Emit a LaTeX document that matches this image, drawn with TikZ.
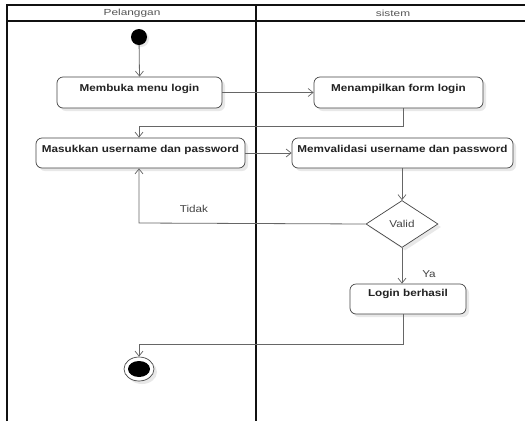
\documentclass[tikz,border=0pt]{standalone}
\usepackage{fontspec}
\newfontfamily\dfont[FakeStretch=1.17]{Liberation Sans}
\newfontfamily\hfont[FakeStretch=1.35]{Liberation Sans}
\usetikzlibrary{arrows.meta,shapes.geometric,shadows}
\definecolor{lanec}{HTML}{111111}
\definecolor{linec}{HTML}{666666}
\definecolor{boxc}{HTML}{444444}
\definecolor{txtc}{HTML}{222222}
\definecolor{labc}{HTML}{444444}
\definecolor{headc}{HTML}{555555}
\tikzset{
  lane/.style={draw=lanec, line width=1.3pt},
  act/.style={draw=boxc, line width=0.7pt, rounded corners=6pt, fill=white,
    font=\dfont\fontsize{10}{12}\selectfont\bfseries, text=txtc,
    inner sep=0pt, text height=7pt, text depth=9pt,
    drop shadow={shadow xshift=3pt, shadow yshift=-3pt, fill=black!9, opacity=1}},
  conn/.style={draw=linec, line width=0.8pt, -{Straight Barb[length=5pt,width=8pt,line width=0.7pt]}},
  lab/.style={font=\dfont\fontsize{10}{12}\selectfont, text=labc, inner sep=0pt},
  head/.style={font=\hfont\fontsize{8.8}{10}\selectfont, text=headc, inner sep=0pt},
  dec/.style={diamond, draw=boxc, line width=0.7pt, fill=white, inner sep=0pt,
    minimum width=72pt, minimum height=47pt,
    font=\dfont\fontsize{10}{12}\selectfont, text=labc,
    drop shadow={shadow xshift=3pt, shadow yshift=-3pt, fill=black!9, opacity=1}},
}
\begin{document}
\begin{tikzpicture}[x=1pt,y=-1pt]
\useasboundingbox[fill=white] (0,0) rectangle (525,421);
% swimlanes
\draw[lane] (7,421) -- (7,5) -- (526,5);
\draw[lane] (7,21) -- (526,21);
\draw[lane] (256,5) -- (256,421);
\node[head] (hp) at (132,13) {Pelanggan};
\node[head] (hs) at (393,13) {sistem};
% start
\node[circle, fill=black, minimum size=16pt, inner sep=0pt,
  drop shadow={shadow xshift=2pt, shadow yshift=-2pt, fill=black!9, opacity=1}] (start) at (139,37) {};
% activities
\node[act, minimum width=165pt, minimum height=31pt] (membuka) at (139.5,92.5) {Membuka menu login};
\node[act, minimum width=169pt, minimum height=31pt] (tampil) at (398.5,92.5) {Menampilkan form login};
\node[act, minimum width=209pt, minimum height=30pt] (masuk) at (140.5,153) {Masukkan username dan password};
\node[act, minimum width=221pt, minimum height=30pt] (valid) at (402.5,153) {Memvalidasi username dan password};
\node[dec] (dec) at (402,224) {Valid};
\node[act, minimum width=116pt, minimum height=30pt, text depth=12pt] (login) at (408,299) {Login berhasil};
% end
\node[ellipse, draw=boxc, line width=0.7pt, fill=white, minimum width=30pt, minimum height=24pt, inner sep=0pt,
  drop shadow={shadow xshift=3pt, shadow yshift=-3pt, fill=black!9, opacity=1}] (end) at (139,369) {};
\node[ellipse, fill=black, minimum width=22pt, minimum height=16pt, inner sep=0pt] (endin) at (end.center) {};
% helper coordinates
\coordinate (c1) at (403,126);
\coordinate (c2) at (139,126);
\coordinate (c3) at (139,223);
\coordinate (c4) at (403,344);
\coordinate (c5) at (139,344);
% connectors
\draw[conn] (start) -- (membuka.north);
\draw[conn] (membuka.east) -- (tampil.west);
\draw[conn] (tampil.south -| c1) -- (c1) -- (c2) -- (masuk.north -| c2);
\draw[conn] (masuk.east) -- (valid.west);
\draw[conn] (valid.south -| dec.north) -- (dec.north);
\draw[conn] (dec.west) -- (c3) -- (masuk.south -| c3);
\node[lab] (tidak) at (194,209) {Tidak};
\draw[conn] (dec.south) -- (dec.south |- login.north);
\node[lab] (ya) at (429,274) {Ya};
\draw[conn] (login.south -| c4) -- (c4) -- (c5) -- (end.north);
\end{tikzpicture}
\end{document}
